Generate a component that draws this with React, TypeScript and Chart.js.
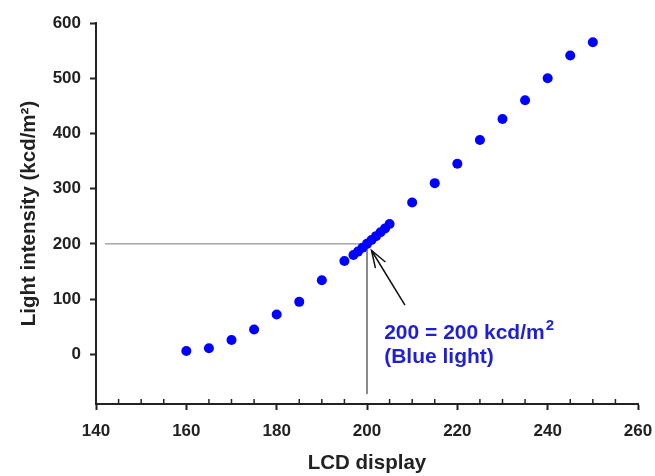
import React, { useEffect, useRef } from 'react';
import { Chart, registerables } from 'chart.js';

Chart.register(...registerables);

// ---- data ----
const lcdValues = [160, 165, 170, 175, 180, 185, 190, 195, 197, 198, 199, 200, 201, 202, 203, 204, 205, 210, 215, 220, 225, 230, 235, 240, 245, 250];
const intensityValues = [6, 11, 26, 45, 72, 95, 134, 169, 180, 186, 193, 200, 207, 214, 221, 228, 236, 275, 310, 345, 388, 426, 460, 500, 541, 565];
const yTickValues = [0, 100, 200, 300, 400, 500, 600];
const xMinorTickValues = [145, 150, 155, 165, 170, 175, 185, 190, 195, 205, 210, 215, 225, 230, 235, 245, 250, 255];
const guideLineX = [142, 200, 200];
const guideLineY = [200, 200, -72];
const arrowTail = [208.4, 89];
const arrowHead = [201, 188];
const annotationAnchor = [203.8, 27];
const annotationMain = '200 = 200 kcd/m';
const annotationSup = '2';
const annotationSecond = '(Blue light)';

const FONT = '"Liberation Sans", Arial, Helvetica, sans-serif';
const AXIS_COLOR = '#222222';
const TEXT_BLUE = '#1f1fd6';

const overlayPlugin = {
  id: 'overlay',
  afterDraw(chart: any) {
    const { ctx, scales, chartArea } = chart;
    const x = scales.x;
    const y = scales.y;
    ctx.save();
    // minor x ticks (inside)
    ctx.strokeStyle = AXIS_COLOR;
    ctx.lineWidth = 1.5;
    const axisY = chartArea.bottom;
    xMinorTickValues.forEach((v) => {
      const px = x.getPixelForValue(v);
      ctx.beginPath();
      ctx.moveTo(px, axisY);
      ctx.lineTo(px, axisY - 5);
      ctx.stroke();
    });
    // arrow
    const tx = x.getPixelForValue(arrowTail[0]);
    const ty = y.getPixelForValue(arrowTail[1]);
    const hx = x.getPixelForValue(arrowHead[0]);
    const hy = y.getPixelForValue(arrowHead[1]);
    ctx.strokeStyle = '#111';
    ctx.lineWidth = 1.5;
    ctx.beginPath();
    ctx.moveTo(tx, ty);
    ctx.lineTo(hx, hy);
    ctx.stroke();
    const ang = Math.atan2(ty - hy, tx - hx);
    const len = 18;
    const spread = 0.33;
    ctx.beginPath();
    ctx.moveTo(hx + len * Math.cos(ang - spread), hy + len * Math.sin(ang - spread));
    ctx.lineTo(hx, hy);
    ctx.lineTo(hx + len * Math.cos(ang + spread), hy + len * Math.sin(ang + spread));
    ctx.stroke();
    // annotation text
    const ax = x.getPixelForValue(annotationAnchor[0]);
    const ay = y.getPixelForValue(annotationAnchor[1]);
    ctx.fillStyle = TEXT_BLUE;
    ctx.textAlign = 'left';
    ctx.textBaseline = 'alphabetic';
    ctx.font = `bold 21px ${FONT}`;
    ctx.fillText(annotationMain, ax, ay);
    const w = ctx.measureText(annotationMain).width;
    ctx.fillText(annotationSecond, ax, ay + 24);
    ctx.font = `bold 15px ${FONT}`;
    ctx.fillText(annotationSup, ax + w + 1, ay - 9);
    ctx.restore();
  },
};

export default function App() {
  const canvasRef = useRef<HTMLCanvasElement | null>(null);

  useEffect(() => {
    if (!canvasRef.current) return;
    const points = lcdValues.map((v, i) => ({ x: v, y: intensityValues[i] }));
    const guide = guideLineX.map((v, i) => ({ x: v, y: guideLineY[i] }));
    const chart = new Chart(canvasRef.current, {
      type: 'scatter',
      data: {
        datasets: [
          {
            label: 'guide',
            data: guide,
            showLine: true,
            borderColor: '#7a7a7a',
            borderWidth: 1,
            pointRadius: 0,
            fill: false,
            order: 2,
          } as any,
          {
            label: 'Light intensity',
            data: points,
            pointRadius: 5,
            pointBackgroundColor: '#0000ff',
            pointBorderColor: '#0000ff',
            pointBorderWidth: 0,
            showLine: false,
            order: 1,
          },
        ],
      },
      options: {
        animation: false,
        responsive: true,
        maintainAspectRatio: false,
        events: [],
        layout: { padding: { left: 0, top: 23, right: 17, bottom: 0 } },
        plugins: { legend: { display: false }, tooltip: { enabled: false } },
        scales: {
          x: {
            type: 'linear',
            min: 140,
            max: 260,
            ticks: {
              stepSize: 20,
              color: AXIS_COLOR,
              font: { family: FONT, size: 17, weight: 'bold' },
              padding: 11,
              maxRotation: 0,
            },
            grid: {
              drawOnChartArea: false,
              drawTicks: true,
              tickLength: 6,
              tickColor: AXIS_COLOR,
              tickWidth: 2,
            },
            border: { display: true, color: AXIS_COLOR, width: 2 },
            title: {
              display: true,
              text: 'LCD display',
              color: AXIS_COLOR,
              font: { family: FONT, size: 20.5, weight: 'bold' },
              padding: { top: 0, bottom: 0 },
            },
            afterFit: (scale: any) => {
              scale.height = 72;
              scale.paddingLeft = 0;
              scale.paddingRight = 0;
            },
          },
          y: {
            type: 'linear',
            min: -90,
            max: 600,
            afterBuildTicks: (scale: any) => {
              scale.ticks = yTickValues.map((v) => ({ value: v }));
            },
            ticks: {
              color: AXIS_COLOR,
              font: { family: FONT, size: 17, weight: 'bold' },
              padding: 9,
            },
            grid: {
              drawOnChartArea: false,
              drawTicks: true,
              tickLength: 6,
              tickColor: AXIS_COLOR,
              tickWidth: 2,
            },
            border: { display: true, color: AXIS_COLOR, width: 2 },
            title: {
              display: true,
              text: 'Light intensity (kcd/m²)',
              color: AXIS_COLOR,
              font: { family: FONT, size: 20.5, weight: 'bold' },
              padding: { top: 17, bottom: 0 },
            },
            afterFit: (scale: any) => {
              scale.width = 96;
            },
          },
        },
      },
      plugins: [overlayPlugin],
    });
    return () => chart.destroy();
  }, []);

  return (
    <div style={{ position: 'fixed', left: 0, top: 0, width: 655, height: 476, background: '#fff' }}>
      <canvas ref={canvasRef} />
    </div>
  );
}
